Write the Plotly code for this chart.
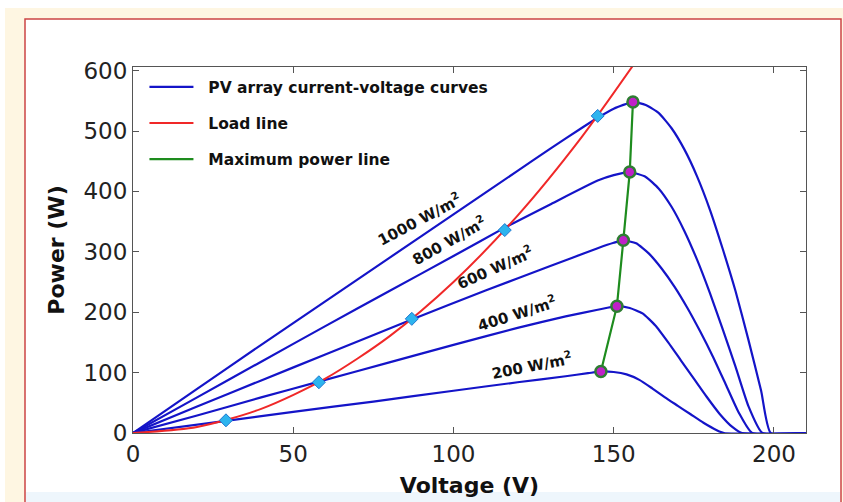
import plotly.graph_objects as go

# ---- data ----
pv1000_v = [0, 20, 40, 60, 80, 100, 120, 130, 140, 145, 150, 156, 160, 164, 168, 172, 176, 180, 184, 188, 192, 196, 199, 210]
pv1000_p = [0, 73, 146, 218, 290, 362, 434, 470, 505, 522, 537, 548, 543, 530, 505, 470, 425, 370, 305, 235, 155, 70, 0, 0]

pv800_v = [0, 20, 40, 60, 80, 100, 116, 130, 145, 150, 155, 160, 164, 168, 172, 176, 180, 184, 188, 192, 196.4, 210]
pv800_p = [0, 59, 118, 177, 235, 293, 340, 378, 418, 427, 432, 424, 405, 375, 335, 287, 232, 172, 110, 45, 0, 0]

pv600_v = [0, 20, 40, 60, 87, 110, 130, 145, 150, 153, 157, 161, 165, 169, 173, 177, 181, 185, 189, 193.2, 210]
pv600_p = [0, 44, 87, 130, 188, 236, 276, 306, 315, 319, 314, 297, 272, 242, 207, 168, 126, 80, 34, 0, 0]

pv400_v = [0, 20, 40, 58, 80, 100, 120, 135, 145, 151, 155, 159, 163, 167, 171, 175, 179, 183, 187, 190, 210]
pv400_p = [0, 29, 59, 85, 117, 146, 174, 193, 204, 210, 207, 198, 178, 150, 120, 90, 60, 32, 10, 0, 0]

pv200_v = [0, 29, 50, 75, 100, 120, 135, 142, 146, 150, 154, 158, 162, 166, 170, 174, 178, 182, 184.4, 210]
pv200_p = [0, 20, 35, 52, 70, 84, 94, 99, 102, 101, 97, 88, 74, 59, 45, 31, 17, 5, 0, 0]

load_v = [0, 20, 40, 60, 80, 100, 120, 140, 157]
load_p = [0, 10, 40, 90, 160, 250, 360, 490, 616]

op_v = [29, 58, 87, 116, 145]
op_p = [21, 84, 189, 336, 525]

mpp_v = [146, 151, 153, 155, 156]
mpp_p = [102, 210, 319, 432, 548]

curve_labels = ["1000 W/m<sup>2</sup>", "800 W/m<sup>2</sup>", "600 W/m<sup>2</sup>",
                "400 W/m<sup>2</sup>", "200 W/m<sup>2</sup>"]
label_v = [89.2, 98.7, 113.0, 119.7, 124.6]
label_p = [355, 320, 275, 199, 112]
label_angle = [-28, -29, -24, -17.5, -11]

x_ticks = [0, 50, 100, 150, 200]
y_ticks = [0, 100, 200, 300, 400, 500, 600]

BLUE = "#1414C8"
RED = "#F02828"
GREEN = "#1E8C1E"
FONT = "DejaVu Sans, Arial"

fig = go.Figure()

curves = [(pv1000_v, pv1000_p), (pv800_v, pv800_p), (pv600_v, pv600_p),
          (pv400_v, pv400_p), (pv200_v, pv200_p)]
for i, (v, p) in enumerate(curves):
    fig.add_trace(go.Scatter(
        x=v, y=p, mode="lines",
        line=dict(color=BLUE, width=2.2, shape="spline", smoothing=0.5),
        name="\u00a0\u00a0<b>PV array current-voltage curves</b>", legendgroup="pv",
        showlegend=(i == 0), hoverinfo="skip"))

fig.add_trace(go.Scatter(
    x=load_v, y=load_p, mode="lines",
    line=dict(color=RED, width=2, shape="spline", smoothing=0.8),
    name="\u00a0\u00a0<b>Load line</b>", legendgroup="load"))

fig.add_trace(go.Scatter(
    x=mpp_v, y=mpp_p, mode="lines",
    line=dict(color=GREEN, width=2.2),
    name="\u00a0\u00a0<b>Maximum power line</b>", legendgroup="mpp"))

fig.add_trace(go.Scatter(
    x=op_v, y=op_p, mode="markers",
    marker=dict(symbol="diamond", size=10, color="#2DB4EE",
                line=dict(color="#1E78D0", width=1)),
    showlegend=False))

fig.add_trace(go.Scatter(
    x=mpp_v, y=mpp_p, mode="markers",
    marker=dict(symbol="circle", size=11, color="#C020C8",
                line=dict(color="#2E7D32", width=2.5)),
    showlegend=False))

for txt, v, p, a in zip(curve_labels, label_v, label_p, label_angle):
    fig.add_annotation(x=v, y=p, text="<b>" + txt + "</b>", showarrow=False,
                       textangle=a, font=dict(family=FONT, size=15, color="#111111"))

L, R, T, B = 133, 37, 67, 69
W, H = 843, 502
pw, ph = W - L - R, H - T - B

def px(xp):
    return (xp - L) / pw

def py(yp):
    return (H - B - yp) / ph

fig.add_shape(type="rect", xref="paper", yref="paper",
              x0=px(5), x1=px(850), y0=py(8), y1=py(520),
              fillcolor="#FEF6E2", line=dict(width=0), layer="below")
fig.add_shape(type="rect", xref="paper", yref="paper",
              x0=px(25), x1=px(841), y0=py(19), y1=py(530),
              fillcolor="white", line=dict(color="#CC4444", width=1.5), layer="below")
fig.add_shape(type="rect", xref="paper", yref="paper",
              x0=px(26), x1=px(840), y0=py(492), y1=py(530),
              fillcolor="#EEF6FC", line=dict(width=0), layer="below")

axis_common = dict(
    showgrid=False, zeroline=False, showline=True, linecolor="#555555", linewidth=1,
    mirror="ticks", ticks="inside", ticklen=6, tickcolor="#555555", automargin=False,
    tickfont=dict(family=FONT, size=23, color="#222222"),
)

fig.update_layout(
    width=W, height=H,
    margin=dict(l=L, r=R, t=T, b=B),
    paper_bgcolor="white", plot_bgcolor="white",
    xaxis=dict(range=[0, 210], tickvals=x_ticks,
               title=dict(text="<b>Voltage (V)</b>", standoff=12,
                          font=dict(family=FONT, size=22, color="#111111")),
               **axis_common),
    yaxis=dict(range=[0, 606], tickvals=y_ticks,
               title=dict(text="<b>Power (W)</b>", standoff=12,
                          font=dict(family=FONT, size=22, color="#111111")),
               **axis_common),
    legend=dict(x=0.017, y=0.991, xanchor="left", yanchor="top",
                bgcolor="rgba(0,0,0,0)", borderwidth=0,
                font=dict(family=FONT, size=15.5, color="#111111"),
                tracegroupgap=13, itemwidth=44),
    showlegend=True,
)

fig.write_html("out.html", config={"displayModeBar": False},
               post_script="document.body.style.margin='0px';document.body.style.overflow='hidden';")
